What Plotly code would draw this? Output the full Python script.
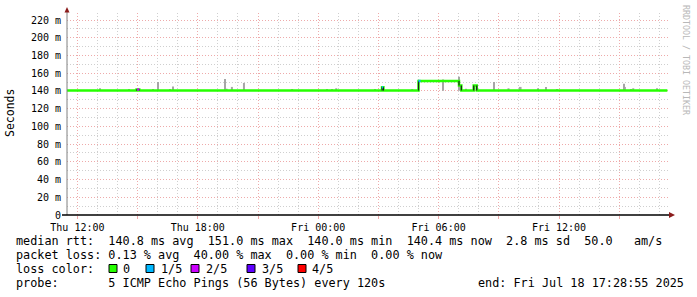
import plotly.graph_objects as go

# ---------------- data ----------------
x_start = "2025-07-17 11:28:55"
x_end = "2025-07-18 17:28:55"

# median rtt (ms) as a step series: value holds until next breakpoint
median_times = ["2025-07-17 11:29", "2025-07-17 14:57", "2025-07-17 15:05",
                "2025-07-18 03:11", "2025-07-18 03:15", "2025-07-18 05:00",
                "2025-07-18 07:01", "2025-07-18 07:08", "2025-07-18 07:45",
                "2025-07-18 07:54", "2025-07-18 17:24"]
median_values = [140.4, 141.6, 140.4, 144.2, 140.4, 151.2, 146.0, 140.4, 146.0, 140.4, 140.4]

# loss-coloured parts of the median line
loss_starts = ["2025-07-17 14:59", "2025-07-18 03:11", "2025-07-18 05:00"]
loss_ends = ["2025-07-17 15:05", "2025-07-18 03:14", "2025-07-18 05:06"]
loss_values = [141.6, 144.2, 151.2]
loss_colors = ["#cc00ff", "#00b8ff", "#00b8ff"]

# smoke (spread of pings): time, top value (ms), width in minutes
smoke_times = ["2025-07-17 13:09", "2025-07-17 14:34", "2025-07-17 15:46", "2025-07-17 16:00",
               "2025-07-17 16:37", "2025-07-17 16:46", "2025-07-17 19:22", "2025-07-17 19:26",
               "2025-07-17 19:42", "2025-07-17 20:18", "2025-07-17 22:42", "2025-07-18 00:25",
               "2025-07-18 00:41", "2025-07-18 00:54", "2025-07-18 02:49", "2025-07-18 04:41",
               "2025-07-18 06:12", "2025-07-18 07:01", "2025-07-18 07:21", "2025-07-18 08:46",
               "2025-07-18 09:29", "2025-07-18 10:04", "2025-07-18 10:58", "2025-07-18 11:22",
               "2025-07-18 11:54", "2025-07-18 15:13", "2025-07-18 15:17", "2025-07-18 15:34",
               "2025-07-18 15:42", "2025-07-18 16:53"]
smoke_tops = [143.0, 142.0, 142.0, 150.0, 142.0, 145.0, 153.5, 142.5,
              144.5, 149.0, 142.0, 142.0,
              142.0, 143.0, 142.0, 142.0,
              153.0, 156.0, 142.5, 150.0,
              143.0, 144.5, 143.0, 144.5,
              142.0, 148.0, 144.5, 142.0,
              143.0, 143.0]
smoke_widths = [3, 3, 3, 3, 3, 3, 3, 6,
                6, 6, 6, 3,
                3, 6, 3, 6,
                3, 3, 3, 3,
                6, 8, 3, 3,
                6, 3, 6, 3,
                6, 6]

y_tickvals = [0, 20, 40, 60, 80, 100, 120, 140, 160, 180, 200, 220]
y_ticktext = ["0", "20 m", "40 m", "60 m", "80 m", "100 m", "120 m", "140 m",
              "160 m", "180 m", "200 m", "220 m"]
x_tickvals = ["2025-07-17 12:00", "2025-07-17 15:00", "2025-07-17 18:00", "2025-07-17 21:00",
              "2025-07-18 00:00", "2025-07-18 03:00", "2025-07-18 06:00", "2025-07-18 09:00",
              "2025-07-18 12:00", "2025-07-18 15:00"]
x_ticktext = ["Thu 12:00", "", "Thu 18:00", "", "Fri 00:00", "", "Fri 06:00", "", "Fri 12:00", ""]

legend_labels = ["0", "1/5", "2/5", "3/5", "4/5"]
legend_colors = ["#26ff00", "#00b8ff", "#cc00ff", "#5e00ff", "#ff0000"]

stats_lines = [
    "median rtt:  140.8 ms avg  151.0 ms max  140.0 ms min  140.4 ms now  2.8 ms sd  50.0   am/s",
    "packet loss: 0.13 % avg  40.00 % max  0.00 % min  0.00 % now",
]
probe_text = "probe:       5 ICMP Echo Pings (56 Bytes) every 120s"
end_text = "end: Fri Jul 18 17:28:55 2025"

# ---------------- layout helpers ----------------
W, H = 697, 297
L, R, T, B = 67, 669, 13, 215
def px(x):
    return (x - L) / (R - L)
def py(y):
    return (B - y) / (B - T)

MONO = "DejaVu Sans Mono"
TXT = 11.8
fig = go.Figure()

# smoke
fig.add_trace(go.Bar(
    x=smoke_times, y=[t - 140.2 for t in smoke_tops], base=140.2,
    width=[w * 60000 for w in smoke_widths],
    marker=dict(color="#a6a6a6", line=dict(width=0)),
    hoverinfo="skip", showlegend=False))

# median line
fig.add_trace(go.Scatter(
    x=median_times, y=median_values, mode="lines", line=dict(color="#26ff00", width=2.5, shape="hv"),
    hoverinfo="skip", showlegend=False))

# dark vertical transitions
for i in range(1, len(median_times) - 1):
    fig.add_trace(go.Scatter(
        x=[median_times[i], median_times[i]], y=[median_values[i - 1], median_values[i]],
        mode="lines", line=dict(color="#202020", width=1.2), hoverinfo="skip", showlegend=False))

# loss coloured segments
for s, e, v, c in zip(loss_starts, loss_ends, loss_values, loss_colors):
    fig.add_trace(go.Scatter(x=[s, e], y=[v, v], mode="lines", line=dict(color=c, width=2.5),
                             hoverinfo="skip", showlegend=False))

grid_major = "#eeaaaa"
grid_minor = "#cfcfcf"

fig.update_layout(
    width=W, height=H,
    margin=dict(l=L, r=W - R, t=T, b=H - B),
    paper_bgcolor="white", plot_bgcolor="white",
    barmode="overlay",
    font=dict(family=MONO, size=10, color="#000000"),
    xaxis=dict(
        type="date", range=[x_start, x_end],
        tickvals=x_tickvals, ticktext=x_ticktext,
        showgrid=True, gridcolor=grid_major, griddash="1px,2px", gridwidth=1,
        ticks="outside", ticklen=3, tickcolor=grid_major,
        minor=dict(dtick=3600000, tick0="2025-07-17 12:00", showgrid=True,
                   gridcolor=grid_minor, griddash="1px,2px", gridwidth=1),
        showline=False, zeroline=False,
        tickfont=dict(family=MONO, size=10),
    ),
    yaxis=dict(
        range=[0, 227.9],
        tickvals=y_tickvals, ticktext=y_ticktext,
        showgrid=True, gridcolor=grid_major, griddash="1px,2px", gridwidth=1,
        minor=dict(dtick=10, tick0=0, showgrid=True, gridcolor=grid_minor,
                   griddash="1px,2px", gridwidth=1),
        ticks="", ticklabelstandoff=5,
        showline=False, zeroline=False,
        tickfont=dict(family=MONO, size=10),
    ),
)

shapes = []
# y axis line and arrow
shapes.append(dict(type="line", xref="paper", yref="paper", x0=px(67), x1=px(67), y0=py(215), y1=py(11),
                   line=dict(color="#808080", width=1)))
shapes.append(dict(type="path", xref="paper", yref="paper",
                   path=f"M {px(64.5)} {py(12.5)} L {px(69.5)} {py(12.5)} L {px(67)} {py(7)} Z",
                   fillcolor="#8b1c1c", line=dict(width=0)))
# x axis line and arrow
shapes.append(dict(type="line", xref="paper", yref="paper", x0=px(62), x1=px(670), y0=py(215), y1=py(215),
                   line=dict(color="#000000", width=1.5)))
shapes.append(dict(type="path", xref="paper", yref="paper",
                   path=f"M {px(669)} {py(212)} L {px(669)} {py(218)} L {px(675)} {py(215)} Z",
                   fillcolor="#8b1c1c", line=dict(width=0)))

annotations = []
# y-axis title
annotations.append(dict(text="Seconds", xref="paper", yref="paper", x=px(10), y=py(113),
                        textangle=-90, showarrow=False, xanchor="center", yanchor="middle",
                        font=dict(family=MONO, size=11.5, color="#000000")))
# watermark
annotations.append(dict(text="RRDTOOL / TOBI OETIKER", xref="paper", yref="paper", x=px(686), y=py(60),
                        textangle=90, showarrow=False, xanchor="center", yanchor="middle",
                        font=dict(family=MONO, size=8.3, color="#b8b8b8")))

line_y = [241, 255, 268.5, 283]
for i, s in enumerate(stats_lines):
    annotations.append(dict(text=s.replace(" ", "&nbsp;"), xref="paper", yref="paper", x=px(14), y=py(line_y[i]),
                            showarrow=False, xanchor="left", yanchor="middle",
                            font=dict(family=MONO, size=TXT, color="#000000")))
annotations.append(dict(text="loss&nbsp;color:", xref="paper", yref="paper", x=px(14), y=py(line_y[2]),
                        showarrow=False, xanchor="left", yanchor="middle",
                        font=dict(family=MONO, size=TXT, color="#000000")))
sq_x = [109, 146, 191, 247, 298]
lbl_x = [122, 159.5, 204.5, 261, 311]
for xs, xl, lab, col in zip(sq_x, lbl_x, legend_labels, legend_colors):
    shapes.append(dict(type="rect", xref="paper", yref="paper", x0=px(xs), x1=px(xs + 8),
                       y0=py(272.5), y1=py(264.5), fillcolor=col, line=dict(color="#000000", width=1)))
    annotations.append(dict(text=lab, xref="paper", yref="paper", x=px(xl - 1), y=py(line_y[2]),
                            showarrow=False, xanchor="left", yanchor="middle",
                            font=dict(family=MONO, size=TXT, color="#000000")))
annotations.append(dict(text=probe_text.replace(" ", "&nbsp;"), xref="paper", yref="paper", x=px(14), y=py(line_y[3]),
                        showarrow=False, xanchor="left", yanchor="middle",
                        font=dict(family=MONO, size=TXT, color="#000000")))
annotations.append(dict(text=end_text.replace(" ", "&nbsp;"), xref="paper", yref="paper", x=px(476), y=py(line_y[3]),
                        showarrow=False, xanchor="left", yanchor="middle",
                        font=dict(family=MONO, size=TXT, color="#000000")))

fig.update_layout(shapes=shapes, annotations=annotations)
fig.write_html("out.html")
